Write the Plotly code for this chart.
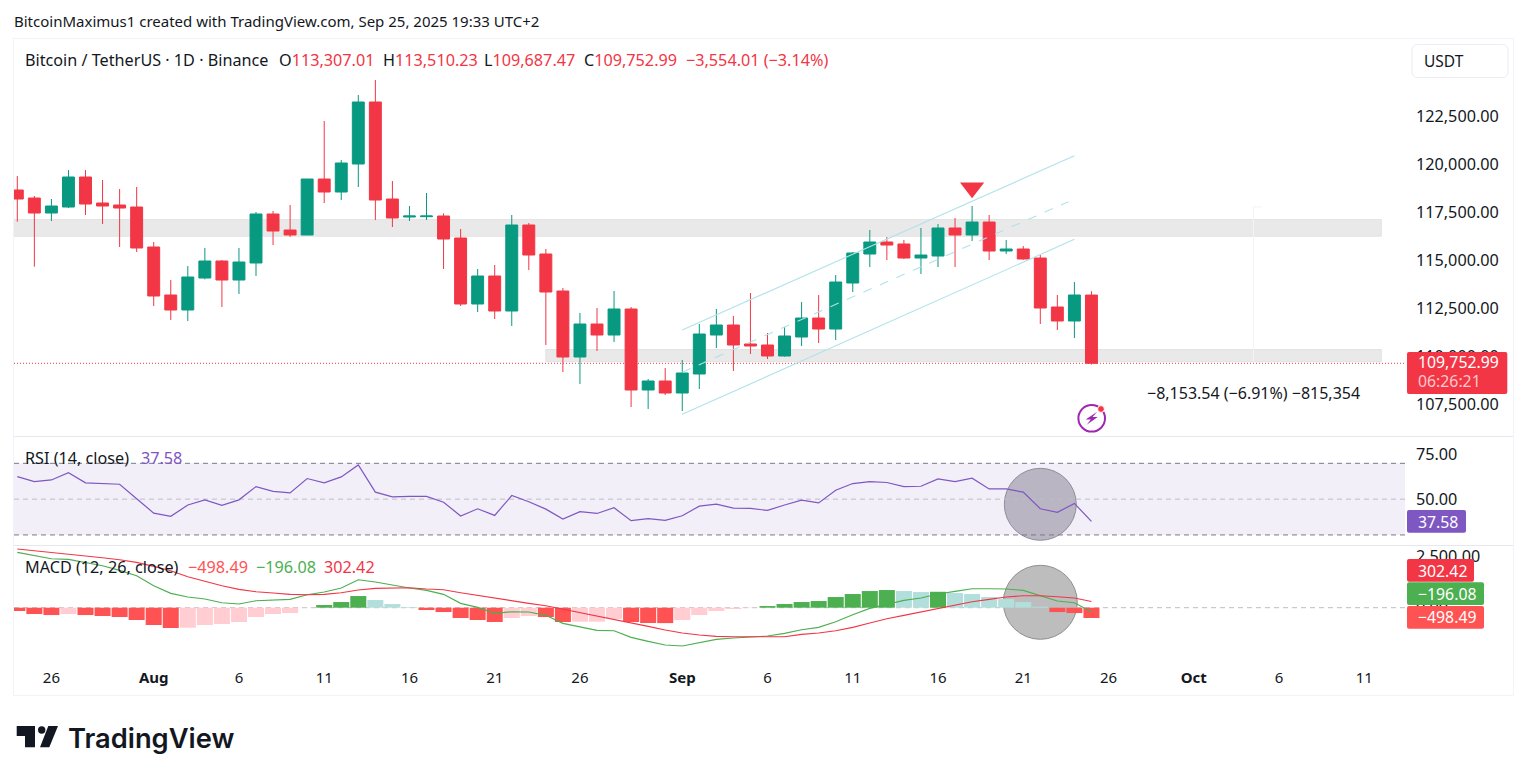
import pandas as pd
import plotly.graph_objects as go

W, H = 1527, 779
FONT = "Noto Sans"
INK = "#131722"
RED = "#F23645"
GREEN = "#089981"

# Daily BTC/USDT candles starting 24 Jul 2025
first_day = "2025-07-24"
opens = [118779,118362,117581,117893,119456,118102,117997,117893,115810,113310,112529,114195,115081,114091,114977,117529,
         116695,116435,119351,118674,120133,123362,118310,117372,117390,117425,116279,112842,114300,112477,116956,115446,
         113519,110081,111800,111227,112581,108363,108831,108206,109196,111227,111748,110758,110706,110134,111123,112112,
         111539,113935,115445,116071,115967,115237,115341,116800,116435,117112,115602,115706,115237,112685,111956,113307.01]
highs = [119508,118466,118310,119820,119820,119299,118831,118935,116070,114091,114820,115758,115133,115758,117633,117685,
         117997,119351,122372,120341,123726,124508,119247,117945,118623,117564,116748,114665,114873,117477,117060,115706,
         113675,112373,112633,113519,112685,108936,109508,109925,111800,112581,112217,113415,111331,111644,112945,113310,
         114352,115550,116696,116331,116175,116800,117008,117320,117946,117477,116175,115862,115393,113310,113987,113510.23]
lows = [117129,114786,117164,117841,117476,117008,115810,115549,112737,112008,111956,114126,112685,113362,114300,115914,
        116331,116435,118102,118258,118935,117216,116851,117164,117217,114665,112738,112425,112060,111696,114613,110706,
        109300,108675,110394,110863,107477,107373,108102,107269,108415,110550,109352,110238,109977,110100,110654,110810,
        110966,113466,114768,115133,115185,114404,114768,114768,116123,115133,115445,115150,111800,111487,111070,109687.47]
closes = [118310,117581,117945,119456,118049,117945,117841,115758,113258,112529,114247,115081,114091,115029,117529,116643,
          116435,119351,118674,120185,123362,118258,117321,117425,117425,116227,112842,114300,112477,116956,115394,113467,
          110081,111800,111227,112581,108363,108831,108206,109248,111279,111748,110706,110654,110134,111175,112112,111539,
          113987,115498,116071,115914,115237,115393,116800,116435,117112,115602,115706,115185,112633,111956,113310,109752.99]

# RSI(14) of the close
rsi = [62.6,59.8,60.7,64.8,59.1,58.7,58.3,50.2,42.2,40.4,46.7,49.6,46.5,49.6,57.0,54.3,
       53.5,61.5,59.1,62.4,69.1,53.9,51.3,51.5,51.5,48.3,40.6,44.6,40.9,52.0,48.5,44.4,
       38.9,43.0,42.0,45.2,38.0,39.1,38.1,40.7,46.1,47.2,45.0,44.8,43.7,46.7,49.4,47.9,
       55.0,58.7,59.8,59.3,57.0,57.2,61.3,59.8,61.7,55.7,55.7,53.9,44.6,42.6,47.6,37.58]

# MACD(12, 26): MACD line, signal line, histogram
macd_line = [2676,2515,2370,2337,2192,2031,1805,1548,1064,693,516,419,242,177,338,387,
             403,629,758,951,1354,1241,1080,951,838,645,210,16,-274,-193,-210,-371,
             -758,-919,-1096,-1112,-1435,-1628,-1805,-1854,-1709,-1531,-1467,-1402,-1370,-1241,-1064,-951,
             -677,-339,-32,161,355,467,661,790,919,919,903,838,596,322,242,-196.08]
signal_line = [2837,2757,2660,2595,2499,2418,2321,2192,1999,1789,1499,1273,1064,887,774,709,
               645,629,645,725,854,935,967,967,903,870,725,596,435,322,210,97,
               -64,-226,-403,-564,-741,-903,-1080,-1225,-1322,-1386,-1402,-1402,-1402,-1402,-1290,-1225,
               -1112,-951,-741,-532,-371,-210,-48,97,290,403,516,580,580,532,467,302.42]
histogram = [-161,-306,-355,-306,-355,-403,-451,-596,-838,-983,-967,-838,-790,-693,-451,-306,
             -258,-10,129,274,564,371,177,32,-113,-210,-500,-596,-693,-500,-403,-451,
             -693,-677,-677,-548,-693,-741,-745,-596,-355,-161,-64,-16,80,177,274,322,
             516,661,806,854,806,757,770,709,661,516,419,274,48,-210,-258,-498.49]

# Axis ticks
price_ticks = [107500, 110000, 112500, 115000, 117500, 120000, 122500]
rsi_ticks = [50, 75]
macd_ticks = [0, 2500]
date_tick_index = [2, 8, 13, 18, 23, 28, 33, 39, 44, 49, 54, 59, 64, 69, 74, 79]
date_tick_text = ["26", "<b>Aug</b>", "6", "11", "16", "21", "26", "<b>Sep</b>", "6", "11", "16", "21", "26", "<b>Oct</b>", "6", "11"]

# Price zones and the drawn channel: (start day, end day, low, high)
resistance_zone = (-1, 80, 116370, 117240)
support_zone = (31, 80, 109850, 110470)
channel_upper = (39, 62, 111487, 120565)
channel_middle = (39, 61.65, 109292, 118170)
channel_lower = (39, 62, 107097, 116211)
top_marker_day, top_marker_price = 56, 118894
rsi_levels = (70, 50, 30)


def day(i):
    return pd.Timestamp(first_day) + pd.Timedelta(days=i)


def px(x):
    return x / W


def py(y):
    return 1 - y / H


def rounded_box(x0, y0, x1, y1, r=2):
    a, b, c, d = px(x0), px(x1), py(y0), py(y1)
    rx, ry = r / W, r / H
    return (f"M{a+rx},{c} L{b-rx},{c} Q{b},{c} {b},{c-ry} L{b},{d+ry} Q{b},{d} {b-rx},{d} "
            f"L{a+rx},{d} Q{a},{d} {a},{d+ry} L{a},{c-ry} Q{a},{c} {a+rx},{c} Z")


def poly(points):
    return "M" + " L".join(f"{px(x)},{py(y)}" for x, y in points) + " Z"


dates = [day(i) for i in range(len(closes))]
x_range = [day(-0.194), day(81.39)]

# Histogram shades follow the bar-to-bar direction
hist_colors = []
for i, h in enumerate(histogram):
    prev = histogram[i - 1] if i else h + (1 if h < 0 else -1)
    if h >= 0:
        hist_colors.append("#4CAF50" if h > prev else "#B2DFDB")
    else:
        hist_colors.append("#FF5252" if h < prev else "#FFCDD2")

fig = go.Figure()
fig.add_trace(go.Candlestick(
    x=dates, open=opens, high=highs, low=lows, close=closes,
    xaxis="x", yaxis="y", whiskerwidth=0, hoverinfo="skip",
    increasing=dict(line=dict(color=GREEN, width=1), fillcolor=GREEN),
    decreasing=dict(line=dict(color=RED, width=1), fillcolor=RED),
))
fig.add_trace(go.Scatter(
    x=[day(top_marker_day)], y=[top_marker_price], xaxis="x", yaxis="y", mode="markers",
    marker=dict(symbol="triangle-down", size=21, color=RED, line=dict(width=0)), hoverinfo="skip",
))
fig.add_trace(go.Scatter(
    x=dates, y=rsi, xaxis="x2", yaxis="y2", mode="lines",
    line=dict(color="#7E57C2", width=1.2), hoverinfo="skip",
))
fig.add_trace(go.Bar(
    x=dates, y=histogram, xaxis="x3", yaxis="y3",
    marker=dict(color=hist_colors, line=dict(width=0)), hoverinfo="skip",
))
fig.add_trace(go.Scatter(
    x=dates, y=macd_line, xaxis="x3", yaxis="y3", mode="lines",
    line=dict(color="#4CAF50", width=1.1), hoverinfo="skip",
))
fig.add_trace(go.Scatter(
    x=dates, y=signal_line, xaxis="x3", yaxis="y3", mode="lines",
    line=dict(color="#F23645", width=1.1), hoverinfo="skip",
))

shapes = []


def line(x0, y0, x1, y1, color, xref="x", yref="y", width=1, dash="solid", layer="above"):
    shapes.append(dict(type="line", x0=x0, y0=y0, x1=x1, y1=y1, xref=xref, yref=yref,
                       line=dict(color=color, width=width, dash=dash), layer=layer))


def paper_line(x0, y0, x1, y1, color):
    line(px(x0), py(y0), px(x1), py(y1), color, xref="paper", yref="paper")


# Chart frame and pane separators
paper_line(13.5, 38.5, 1513.5, 38.5, "#F0F3FA")
paper_line(13.5, 695.5, 1513.5, 695.5, "#F0F3FA")
paper_line(13.5, 38.5, 13.5, 695.5, "#F0F3FA")
paper_line(1513.5, 38.5, 1513.5, 695.5, "#F0F3FA")
paper_line(14, 436.5, 1513, 436.5, "#E6E8EE")
paper_line(14, 545.5, 1513, 545.5, "#E6E8EE")

# Support and resistance zones
for d0, d1, lo, hi in (resistance_zone, support_zone):
    shapes.append(dict(type="rect", xref="x", yref="y", x0=day(d0), x1=day(d1), y0=lo, y1=hi,
                       fillcolor="#E9E9E9", line=dict(color="#E3E3E3", width=1), layer="below"))

# Faint range marker and the last-price line
line(day(72.5), 109850, day(72.5), 117900, "#F3F4F6", layer="below")
line(day(72.5), 117900, day(73), 117900, "#F3F4F6", layer="below")
line(x_range[0], closes[-1], x_range[1], closes[-1], RED, dash="1px,2px", layer="below")

# Rising channel
for seg, dash in ((channel_upper, "solid"), (channel_middle, "dash"), (channel_lower, "solid")):
    d0, d1, p0, p1 = seg
    line(day(d0), p0, day(d1), p1, "#AEE3EA", width=1.1, dash=dash)

# RSI band, guide levels and highlight circle
shapes.append(dict(type="rect", xref="x2", yref="y2", x0=x_range[0], x1=x_range[1],
                   y0=rsi_levels[2], y1=rsi_levels[0], fillcolor="#F2EFF9", line=dict(width=0), layer="below"))
shapes.append(dict(type="circle", xref="x2", yref="y2", x0=day(60 - 2.11), x1=day(60 + 2.11), y0=27.0, y1=67.2,
                   fillcolor="#B9B5C3", line=dict(color="#8F8C99", width=1), layer="below"))
line(x_range[0], rsi_levels[0], x_range[1], rsi_levels[0], "#787B86", "x2", "y2", dash="5px,4px", layer="below")
line(x_range[0], rsi_levels[1], x_range[1], rsi_levels[1], "#BDBEC6", "x2", "y2", dash="5px,4px", layer="below")
line(x_range[0], rsi_levels[2], x_range[1], rsi_levels[2], "#787B86", "x2", "y2", dash="5px,4px", layer="below")

# MACD highlight circle and zero line
shapes.append(dict(type="circle", xref="x3", yref="y3", x0=day(60 - 2.17), x1=day(60 + 2.17), y0=-1528, y1=2050,
                   fillcolor="#BDBDBD", line=dict(color="#8F8F8F", width=1), layer="below"))
line(x_range[0], 0, x_range[1], 0, "#BDBEC6", "x3", "y3", dash="5px,4px", layer="below")

# Last-value tags on the price scale
for x0, y0, x1, y1, color in (
    (1407, 352, 1507.3, 394, RED),
    (1407, 510, 1466, 532.7, "#7E57C2"),
    (1407, 559, 1474, 581.7, RED),
    (1407, 582.3, 1484, 605, "#4CAF50"),
    (1407, 606, 1484, 628.7, "#FF5252"),
):
    shapes.append(dict(type="path", path=rounded_box(x0, y0, x1, y1), xref="paper", yref="paper",
                       fillcolor=color, line=dict(width=0)))

# Currency button
shapes.append(dict(type="path", path=rounded_box(1412, 44.5, 1508, 77.5, r=6), xref="paper", yref="paper",
                   fillcolor="#FFFFFF", line=dict(color="#EBEDF2", width=1)))

# Flash icon
ic_x, ic_y = 1091.7, 418.3
shapes.append(dict(type="circle", xref="paper", yref="paper", x0=px(ic_x - 13.3), x1=px(ic_x + 13.3),
                   y0=py(ic_y + 13.3), y1=py(ic_y - 13.3), fillcolor="#FFFFFF", line=dict(color="#9C27B0", width=2)))
shapes.append(dict(type="path", xref="paper", yref="paper", fillcolor="#9C27B0", line=dict(width=0),
                   path=poly([(ic_x + 5.5, ic_y - 6.5), (ic_x - 6, ic_y + 1.2), (ic_x - 0.8, ic_y + 1.2),
                              (ic_x - 5, ic_y + 6.5), (ic_x + 6, ic_y - 1.2), (ic_x + 0.8, ic_y - 1.2)])))
shapes.append(dict(type="circle", xref="paper", yref="paper", x0=px(1101 - 3.4), x1=px(1101 + 3.4),
                   y0=py(409 + 3.4), y1=py(409 - 3.4), fillcolor="#F23645", line=dict(color="#FFFFFF", width=1)))

# Wordmark glyph
shapes.append(dict(type="path", xref="paper", yref="paper", fillcolor="#131722", line=dict(width=0),
                   path=poly([(16.7, 726), (35, 726), (35, 747.3), (25, 747.3), (25, 736), (16.7, 736)])))
shapes.append(dict(type="circle", xref="paper", yref="paper", x0=px(38), x1=px(45.4), y0=py(733.7), y1=py(726.3),
                   fillcolor="#131722", line=dict(width=0)))
shapes.append(dict(type="path", xref="paper", yref="paper", fillcolor="#131722", line=dict(width=0),
                   path=poly([(48.3, 726), (58, 726), (49.3, 747.3), (40, 747.3)])))

annotations = []


def label(x, y, text, color=INK, size=16.2, **kw):
    # Annotations carry 2px of internal padding on the left
    annotations.append(dict(x=px(x - 2), y=py(y), xref="paper", yref="paper", text=text, showarrow=False,
                            xanchor="left", yanchor="middle", align="left",
                            font=dict(family=kw.pop("family", FONT), size=size, color=color, **kw)))


label(14, 21, "BitcoinMaximus1 created with TradingView.com, Sep 25, 2025 19:33 UTC+2", size=15)
label(25, 60, "Bitcoin / TetherUS · 1D · Binance")
for x, head, value in ((279, "O", opens[-1]), (383, "H", highs[-1]), (484, "L", lows[-1]), (584, "C", closes[-1])):
    label(x, 60, f'{head}<span style="color:{RED}">{value:,.2f}</span>')
label(686, 60, "−3,554.01 (−3.14%)", color=RED)
label(1424, 61, "USDT", size=15.5)
label(1147, 393, "−8,153.54 (−6.91%) −815,354", size=16)

label(25, 458, "RSI (14, close)")
label(141, 458, f"{rsi[-1]:.2f}", color="#7E57C2")
label(25, 567, "MACD (12, 26, close)")
label(188, 567, f"−{abs(histogram[-1]):,.2f}", color="#FF5252")
label(256, 567, f"−{abs(macd_line[-1]):,.2f}", color="#4CAF50")
label(324, 567, f"{signal_line[-1]:,.2f}", color=RED)

label(1418.3, 362, f"{closes[-1]:,.2f}", color="#FFFFFF", size=15.8)
label(1418.3, 381, "06:26:21", color="#FBC9CE", size=15.8)
label(1418.3, 521.5, f"{rsi[-1]:.2f}", color="#FFFFFF", size=15.8)
label(1418.3, 570.5, f"{signal_line[-1]:,.2f}", color="#FFFFFF", size=15.8)
label(1418.3, 593.7, f"−{abs(macd_line[-1]):,.2f}", color="#FFFFFF", size=15.8)
label(1418.3, 617.3, f"−{abs(histogram[-1]):,.2f}", color="#FFFFFF", size=15.8)

label(68, 738, "TradingView", color="#131722", size=27.3, family="Inter", weight=600)

x_dom = [px(14), px(1405)]
common_x = dict(range=x_range, domain=x_dom, showgrid=False, zeroline=False, showline=False, type="date",
                rangeslider=dict(visible=False))
common_y = dict(side="right", showgrid=False, zeroline=False, showline=False, ticks="",
                tickformat=",.2f", tickmode="array", ticklabelstandoff=10,
                tickfont=dict(family=FONT, size=16.2, color=INK))

fig.update_layout(
    width=W, height=H, autosize=False,
    margin=dict(l=0, r=0, t=0, b=0),
    paper_bgcolor="#FFFFFF", plot_bgcolor="rgba(0,0,0,0)",
    showlegend=False, hovermode=False, dragmode=False,
    bargap=0.06, boxgap=0.3, boxgroupgap=0,
    shapes=shapes, annotations=annotations,
    xaxis=dict(**common_x, anchor="y", showticklabels=False),
    xaxis2=dict(**common_x, anchor="y2", matches="x", showticklabels=False),
    xaxis3=dict(**common_x, anchor="y3", matches="x", tickmode="array",
                tickvals=[day(i) for i in date_tick_index], ticktext=date_tick_text,
                ticks="", ticklabelstandoff=5, tickfont=dict(family=FONT, size=15, color=INK)),
    yaxis=dict(**common_y, anchor="x", domain=[py(436.5), py(39)], range=[105941, 126644], tickvals=price_ticks,
               ticklabelshift=-2),
    yaxis2=dict(**common_y, anchor="x2", domain=[py(545.5), py(437)], range=[24.1, 84.7], tickvals=rsi_ticks),
    yaxis3=dict(**common_y, anchor="x3", domain=[py(662), py(546)], range=[-2626, 2984], tickvals=macd_ticks),
)

fig.write_html("out.html", config=dict(displayModeBar=False, staticPlot=True))
